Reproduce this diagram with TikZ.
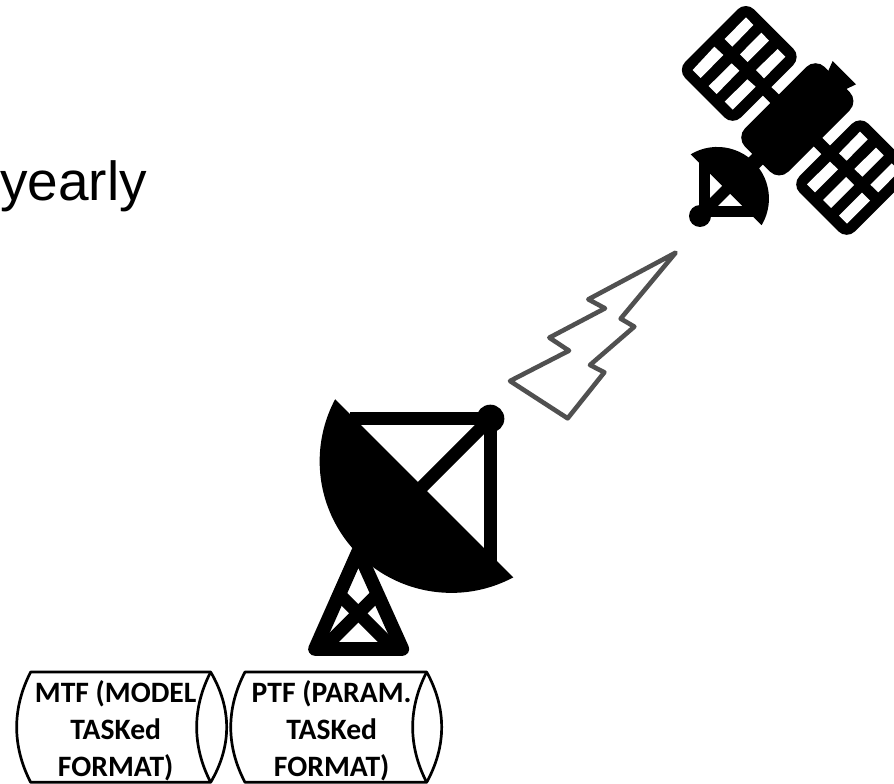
\documentclass[tikz,border=0pt]{standalone}
\usepackage{fontspec}
\setmainfont{Liberation Sans}
\newfontfamily\carlitofont{Carlito}
\tikzset{
  zoomgrid/.style={x=0.33333pt,y=-0.33333pt},
  solidblack/.style={fill=black,draw=none},
  panelbox/.style={fill=black,draw=none,rounded corners=11.7pt},
  cellhole/.style={fill=white,draw=none},
  barline/.style={draw=black,line cap=butt},
  boltline/.style={draw=boltgray,line width=4.6pt,line join=round},
  scrollline/.style={draw=black,line width=2.7pt,line join=round},
  scrolltext/.style={font=\carlitofont\bfseries\fontsize{29.6}{37}\selectfont,align=center,inner sep=0pt,text=black},
}
\definecolor{boltgray}{HTML}{505050}
\begin{document}
\begin{tikzpicture}[x=1pt,y=-1pt]
\useasboundingbox (0,0) rectangle (894,784);
\clip (0,0) rectangle (894,784);
\node[anchor=base west,inner sep=0pt,font=\fontsize{55}{66}\selectfont] (yearlylabel) at (0,200) {yearly};

% satellite
\begin{scope}[shift={(640,0)},zoomgrid]
  \fill[panelbox] (317.5,3.5) -- (484.5,170.5) -- (278,377) -- (111,210) -- cycle;
  \fill[panelbox] (660.5,346.5) -- (826.5,512.5) -- (620,719) -- (454,553) -- cycle;
  \draw[barline,line width=12pt] (297,190) -- (640,532);
  \fill[solidblack,rounded corners=13pt] (526.5,173.5) -- (656.5,303.5) -- (417.5,542.5) -- (287.5,412.5) -- cycle;
  \fill[solidblack] (565,212) -- (578,183) -- (648,253) -- (617,268) -- (590,280) -- cycle;
  \draw[barline,line width=15pt] (365,465) -- (315,515);
  \foreach \a/\b/\c/\d in {
    {318,52}/{340,75}/{277,140}/{254,117},
    {223,140}/{250,165}/{182,234}/{158,210},
    {364,98}/{387,122}/{323,186}/{300,163},
    {275,190}/{298,212}/{230,282}/{206,258},
    {413,147}/{436,170}/{372,235}/{348,210},
    {322,238}/{347,260}/{278,329}/{254,305},
    {660,395}/{683,418}/{620,482}/{597,460},
    {570,485}/{594,508}/{525,577}/{501,553},
    {708,443}/{731,466}/{667,530}/{643,507},
    {618,531}/{642,555}/{573,624}/{549,600},
    {755,490}/{778,513}/{715,577}/{691,554},
    {666,578}/{690,602}/{621,671}/{597,647}}
    {\fill[cellhole] (\a) -- (\b) -- (\c) -- (\d) -- cycle;}
  % small dish
  \fill[solidblack] (152,463) arc[start angle=-121,end angle=31,radius=155] -- cycle;
  \draw[barline,line width=11pt] (193,480) -- (193,640);
  \draw[barline,line width=11pt] (193,636) -- (340,636);
  \draw[barline,line width=11pt] (180,648) -- (265,563);
  \fill[solidblack] (180,648) circle[radius=33];
\end{scope}

% lightning bolt
\begin{scope}[shift={(500,240)},zoomgrid]
  \draw[boltline] (527,38) -- (265,178) -- (315,205) -- (148,293) -- (207,332) -- (30,423) -- (203,535) -- (313,397) -- (270,375) -- (403,260) -- (362,236) -- cycle;
\end{scope}

% ground antenna
\begin{scope}[shift={(290,380)},zoomgrid]
  \draw[draw=black,line width=13.7pt,line join=round] (75,807) -- (205,514) -- (337,807) -- cycle;
  \draw[barline,line width=13pt] (150,645) -- (310,805);
  \draw[barline,line width=13pt] (260,645) -- (100,805);
  \fill[solidblack] (670,592) arc[start angle=61.9,end angle=208.1,radius=395] -- cycle;
  \draw[barline,line width=12.5pt] (180,116) -- (601,116);
  \draw[barline,line width=12.5pt] (601,116) -- (601,545);
  \draw[barline,line width=13pt] (601,116) -- (385,332);
  \fill[solidblack] (601,116) circle[radius=42];
\end{scope}

% scrolls
\begin{scope}[shift={(0,650)},zoomgrid]
  \draw[scrollline] (92,66) -- (632,66) .. controls (696,175) and (696,288) .. (632,397) -- (92,397) .. controls (36,288) and (36,175) .. (92,66) -- cycle;
  \draw[scrollline] (632,66) .. controls (576,175) and (576,288) .. (632,397);
  \node[scrolltext] (mtf) at (347,241) {MTF (MODEL\\TASKed\\FORMAT)};
  \draw[scrollline] (735,66) -- (1280,66) .. controls (1340,175) and (1340,288) .. (1280,397) -- (735,397) .. controls (678,288) and (678,175) .. (735,66) -- cycle;
  \draw[scrollline] (1280,66) .. controls (1224,175) and (1224,288) .. (1280,397);
  \node[scrolltext] (ptf) at (995,241) {PTF (PARAM.\\TASKed\\FORMAT)};
\end{scope}
\end{tikzpicture}
\end{document}
